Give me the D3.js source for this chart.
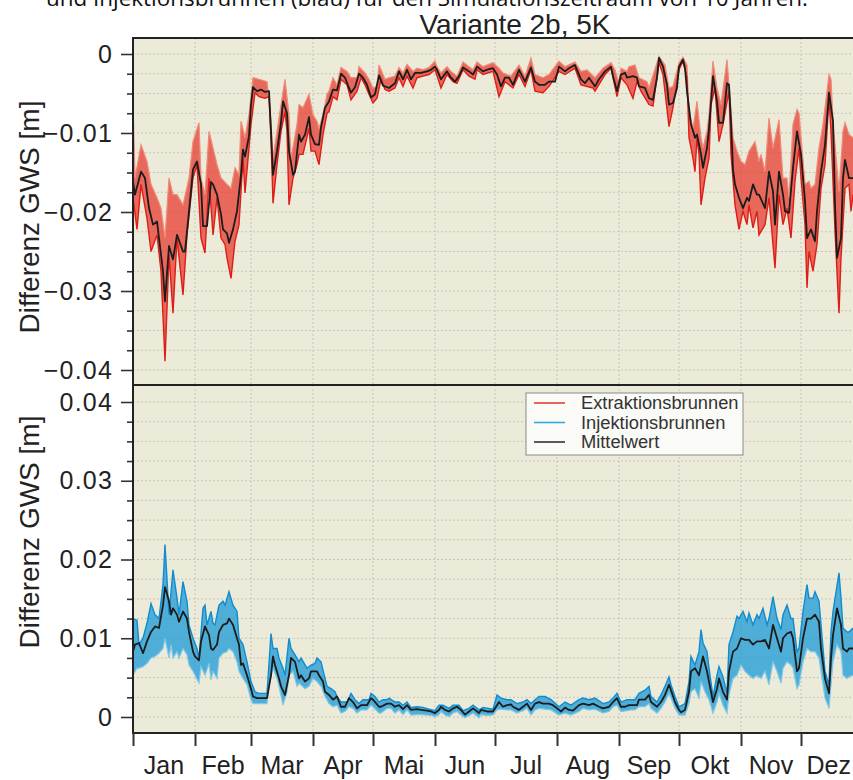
<!DOCTYPE html>
<html>
<head>
<meta charset="utf-8">
<script src="https://cdn.jsdelivr.net/npm/d3@7"></script>
<style>
  body { margin: 0; background: #ffffff; }
  svg { display: block; }
</style>
</head>
<body>
<svg id="chart" width="853" height="780"></svg>
<script>
// ---- categories / ticks ----
const months = ["Jan","Feb","Mar","Apr","Mai","Jun","Jul","Aug","Sep","Okt","Nov","Dez"];
const monthDays = [31,28,31,30,31,30,31,31,30,31,30,31];
const upperTickValues = [-0.04,-0.03,-0.02,-0.01,0];   // m
const lowerTickValues = [0,0.01,0.02,0.03,0.04];        // m
const minorStep = 0.0025;                               // m

// ---- series: [day of year, groundwater difference in mm] ----
// Extraktionsbrunnen: mean, lower and upper envelope of the wells
const extrMean = [[0,-16.1],[1,-17.8],[4,-14.9],[6,-15.7],[8,-19.5],[10,-21.6],[12,-21.2],[13,-23.3],[15,-27.5],[16,-31.3],[18,-24.3],[20,-26.0],[22,-22.9],[25,-25.0],[26,-25.0],[28,-19.9],[30,-14.6],[32,-13.6],[34,-16.5],[35,-21.8],[37,-21.8],[39,-16.2],[40,-16.5],[42,-17.8],[44,-20.3],[45,-22.2],[47,-22.7],[48,-23.9],[50,-22.2],[52,-19.9],[54,-15.3],[55,-12.1],[56,-13.0],[58,-10.4],[59,-6.4],[60,-4.2],[62,-4.7],[64,-4.5],[66,-4.8],[68,-4.7],[69,-9.8],[70,-15.3],[72,-12.3],[74,-8.7],[75,-6.0],[77,-7.5],[78,-12.3],[80,-15.3],[81,-14.9],[83,-10.2],[84,-11.1],[86,-10.2],[88,-8.0],[89,-10.2],[91,-11.4],[93,-11.5],[94,-9.3],[96,-6.8],[98,-6.0],[100,-4.5],[102,-4.6],[104,-2.5],[106,-3.0],[108,-4.3],[109,-4.9],[111,-4.2],[113,-2.5],[115,-3.0],[117,-3.9],[119,-5.5],[121,-5.1],[123,-2.7],[125,-4.0],[128,-4.3],[131,-3.7],[133,-2.2],[135,-3.2],[137,-2.0],[139,-3.2],[141,-2.4],[144,-2.4],[147,-2.2],[149,-2.0],[151,-1.6],[152,-2.0],[154,-3.2],[157,-2.2],[159,-3.0],[161,-3.5],[163,-2.8],[165,-1.7],[168,-2.2],[170,-2.6],[172,-1.6],[175,-2.2],[178,-1.9],[180,-1.8],[182,-2.6],[184,-4.1],[186,-3.0],[188,-3.0],[190,-3.9],[193,-2.0],[196,-3.5],[199,-1.7],[201,-3.5],[203,-3.9],[206,-3.9],[208,-3.5],[211,-3.5],[213,-1.6],[216,-2.2],[218,-1.8],[221,-1.4],[224,-3.2],[226,-3.7],[228,-3.0],[231,-4.1],[233,-3.2],[236,-2.2],[239,-1.6],[240,-2.8],[242,-4.7],[244,-2.6],[246,-2.4],[247,-3.0],[250,-2.8],[252,-3.0],[253,-4.1],[256,-4.3],[258,-5.6],[260,-5.8],[262,-3.0],[263,-0.5],[265,-1.6],[267,-3.9],[268,-6.4],[270,-6.2],[272,-4.3],[273,-1.6],[275,-0.7],[276,-1.8],[277,-4.7],[279,-8.9],[281,-10.6],[282,-10.2],[284,-12.7],[285,-14.4],[287,-11.9],[288,-9.4],[290,-2.8],[292,-6.0],[293,-8.7],[295,-8.7],[297,-3.7],[298,-3.9],[299,-8.5],[300,-14.6],[301,-16.5],[303,-18.2],[305,-19.5],[307,-18.2],[308,-18.6],[310,-16.5],[312,-17.8],[313,-17.8],[316,-19.5],[318,-14.9],[320,-17.4],[321,-21.6],[323,-14.9],[325,-17.8],[326,-19.9],[328,-20.1],[330,-14.4],[332,-9.8],[334,-12.7],[336,-18.6],[337,-23.3],[339,-22.2],[341,-23.7],[342,-19.9],[344,-14.9],[346,-11.5],[348,-4.9],[350,-8.5],[351,-19.1],[352,-25.8],[354,-23.3],[355,-15.7],[356,-13.4],[358,-15.7],[360,-15.7]];

const extrLow = [[0,-18.2],[2,-22.2],[4,-16.5],[7,-20.8],[9,-25.0],[12,-22.9],[14,-27.5],[16,-38.9],[18,-25.4],[20,-32.8],[22,-23.3],[25,-30.5],[27,-22.9],[30,-15.7],[32,-14.0],[34,-23.3],[36,-25.2],[38,-15.7],[40,-22.9],[42,-18.2],[44,-23.3],[46,-24.1],[47,-25.8],[49,-28.4],[51,-23.7],[53,-21.6],[54,-17.4],[55,-13.2],[56,-17.6],[58,-11.9],[59,-8.9],[61,-4.9],[63,-5.4],[66,-5.6],[68,-5.4],[69,-10.6],[70,-18.9],[72,-14.0],[74,-9.8],[76,-7.3],[77,-9.8],[78,-19.1],[80,-15.7],[82,-14.0],[83,-12.7],[85,-12.7],[88,-9.4],[89,-12.3],[91,-12.3],[93,-14.0],[95,-10.2],[97,-7.5],[98,-7.3],[100,-5.4],[102,-5.8],[104,-3.2],[107,-3.9],[109,-5.8],[112,-4.7],[114,-3.0],[116,-3.9],[118,-5.1],[120,-6.2],[122,-5.6],[124,-3.2],[126,-4.5],[128,-4.7],[131,-4.3],[133,-3.0],[135,-4.1],[137,-2.8],[140,-4.3],[142,-3.0],[145,-2.8],[148,-2.6],[151,-2.0],[154,-4.3],[157,-2.6],[160,-3.5],[162,-3.7],[165,-2.0],[168,-2.8],[171,-3.2],[172,-2.0],[175,-2.6],[180,-2.2],[183,-5.4],[186,-3.5],[190,-4.3],[193,-2.6],[196,-4.1],[199,-2.0],[201,-4.7],[205,-4.9],[208,-4.1],[213,-2.2],[216,-2.6],[221,-1.8],[224,-3.9],[230,-4.3],[231,-4.7],[236,-2.6],[239,-1.8],[242,-5.4],[244,-3.0],[247,-3.9],[250,-5.6],[252,-3.5],[254,-4.7],[258,-6.4],[260,-6.6],[263,-1.1],[265,-2.6],[268,-9.2],[270,-6.8],[273,-2.0],[275,-0.9],[277,-3.0],[278,-10.6],[280,-13.2],[281,-14.9],[282,-10.6],[283,-12.7],[284,-19.1],[286,-15.7],[288,-13.2],[289,-6.4],[291,-4.3],[293,-11.1],[295,-8.9],[298,-4.7],[299,-12.7],[301,-19.1],[303,-22.2],[305,-19.9],[307,-21.6],[308,-19.1],[310,-22.0],[312,-19.9],[313,-22.9],[316,-21.6],[318,-18.2],[321,-27.1],[323,-17.8],[325,-21.6],[327,-19.5],[329,-23.3],[331,-16.1],[333,-11.9],[334,-15.7],[336,-21.6],[337,-29.6],[338,-25.0],[340,-27.5],[342,-24.1],[344,-17.0],[346,-14.0],[348,-5.6],[349,-9.8],[351,-22.4],[353,-32.8],[354,-25.8],[356,-17.0],[358,-16.5],[359,-19.9],[360,-17.8]];

const extrHigh = [[0,-6.0],[1,-15.7],[4,-11.5],[7,-13.6],[9,-16.5],[12,-18.2],[14,-19.5],[16,-23.3],[18,-15.7],[20,-17.8],[22,-17.8],[25,-19.1],[28,-15.7],[30,-11.1],[33,-8.7],[34,-15.7],[36,-17.8],[38,-9.8],[40,-11.9],[42,-14.0],[44,-15.7],[47,-16.5],[49,-17.0],[51,-14.4],[53,-15.3],[54,-8.5],[56,-10.6],[58,-7.7],[60,-3.0],[63,-3.2],[67,-3.5],[69,-8.5],[70,-13.2],[72,-9.8],[74,-6.4],[76,-3.2],[78,-7.7],[79,-13.2],[82,-8.9],[83,-6.4],[85,-6.8],[88,-5.1],[90,-7.7],[92,-8.5],[93,-9.4],[95,-7.7],[97,-5.1],[98,-4.7],[100,-3.0],[102,-3.9],[104,-1.7],[107,-2.2],[109,-3.0],[112,-3.0],[113,-1.6],[116,-2.4],[118,-3.2],[120,-4.3],[122,-4.1],[123,-1.4],[126,-3.2],[128,-3.0],[131,-2.8],[133,-1.7],[135,-2.4],[137,-1.3],[140,-2.2],[142,-1.8],[145,-2.0],[148,-1.7],[151,-0.9],[152,-1.6],[154,-2.4],[157,-1.6],[159,-2.2],[162,-2.8],[165,-1.0],[168,-1.6],[170,-2.0],[172,-1.0],[175,-1.6],[180,-1.1],[183,-1.8],[185,-2.4],[189,-2.8],[193,-1.4],[196,-2.8],[199,-0.5],[201,-2.6],[205,-3.0],[208,-2.6],[213,-0.9],[216,-1.6],[221,-1.0],[224,-2.2],[227,-2.0],[231,-3.0],[235,-1.8],[239,-1.1],[241,-2.0],[243,-3.7],[244,-1.8],[247,-2.2],[248,-1.6],[251,-1.4],[253,-3.0],[257,-3.5],[258,-4.3],[262,-1.1],[263,-0.3],[266,-1.4],[268,-4.3],[270,-4.1],[273,-1.1],[275,-0.4],[277,-1.4],[278,-7.3],[280,-9.4],[282,-6.0],[284,-10.6],[285,-11.9],[287,-9.8],[288,-7.7],[290,-0.9],[292,-4.3],[294,-6.4],[297,-0.7],[299,-7.3],[300,-10.6],[302,-12.3],[304,-13.6],[306,-14.0],[308,-12.3],[311,-11.1],[313,-13.6],[314,-12.7],[316,-14.9],[318,-8.1],[320,-11.9],[323,-8.3],[325,-15.7],[327,-15.7],[328,-18.2],[330,-8.9],[332,-7.0],[333,-7.5],[336,-16.5],[338,-16.1],[339,-17.0],[341,-16.5],[343,-11.9],[345,-8.9],[348,-2.6],[349,-3.2],[350,-8.5],[353,-17.4],[355,-9.8],[356,-8.7],[358,-10.2],[360,-10.6]];

// Injektionsbrunnen: mean, lower and upper envelope of the wells
const injMean = [[0,8.3],[1,9.2],[3,9.4],[5,8.1],[7,9.6],[9,10.8],[11,11.5],[13,11.3],[15,14.2],[16,16.5],[18,14.7],[19,13.0],[20,13.8],[22,13.0],[23,12.1],[25,13.4],[27,12.5],[28,10.8],[30,8.3],[31,7.7],[33,7.2],[34,9.6],[36,11.5],[38,10.4],[39,8.7],[40,8.5],[42,9.2],[43,10.8],[45,11.7],[47,11.9],[48,12.5],[50,11.7],[52,10.0],[53,9.2],[54,6.6],[55,6.8],[57,5.3],[59,3.6],[60,2.6],[62,2.4],[64,2.4],[67,2.4],[69,5.3],[70,7.7],[71,6.6],[73,4.9],[74,3.9],[76,2.8],[78,5.3],[79,7.5],[81,7.0],[83,4.9],[84,5.3],[86,4.5],[88,4.9],[89,5.8],[92,5.8],[93,5.3],[95,4.5],[96,3.2],[98,2.8],[100,2.2],[102,2.6],[104,1.3],[106,1.3],[108,2.4],[110,1.9],[112,1.1],[114,1.5],[117,1.5],[119,2.4],[120,2.2],[123,1.3],[124,1.3],[127,1.7],[129,1.7],[131,1.3],[133,1.5],[135,1.0],[137,1.5],[139,0.9],[142,1.0],[144,0.9],[147,0.8],[149,0.7],[151,0.5],[153,0.9],[154,1.3],[156,0.9],[158,0.7],[160,1.1],[162,1.3],[164,0.9],[166,0.3],[168,0.7],[170,1.1],[173,0.5],[174,0.9],[177,0.7],[180,0.7],[182,1.5],[183,1.9],[185,1.3],[187,1.5],[189,1.6],[190,1.3],[193,0.9],[195,1.3],[197,1.7],[199,0.9],[201,1.7],[203,1.9],[205,1.7],[208,1.7],[210,1.5],[213,0.9],[214,0.7],[216,1.2],[218,0.9],[220,0.8],[223,1.5],[225,1.7],[228,1.5],[230,1.7],[233,1.3],[235,1.1],[238,1.3],[240,1.9],[242,2.4],[244,1.3],[246,1.3],[248,1.5],[250,1.5],[252,1.5],[253,2.2],[256,2.2],[258,2.8],[259,1.9],[262,1.3],[264,1.9],[266,2.8],[268,4.1],[269,3.4],[271,1.9],[273,0.9],[274,0.6],[276,0.9],[278,3.2],[279,5.8],[281,6.2],[283,5.3],[285,7.7],[287,5.8],[288,4.5],[290,1.9],[292,3.6],[293,4.9],[295,3.2],[297,2.2],[298,5.8],[300,8.3],[302,8.7],[304,10.0],[306,9.8],[308,9.8],[310,9.2],[312,9.6],[314,9.6],[316,9.8],[318,8.7],[320,11.7],[322,10.0],[324,8.3],[325,10.0],[327,10.6],[329,10.8],[330,10.0],[332,5.8],[333,6.2],[335,10.0],[337,12.5],[339,12.5],[341,13.0],[343,12.1],[344,8.7],[346,4.9],[348,3.0],[349,7.5],[350,10.4],[352,13.8],[354,11.7],[355,8.7],[357,8.3],[358,8.7],[360,8.7]];

const injHigh = [[0,12.5],[2,12.3],[3,9.2],[5,10.0],[7,11.9],[9,14.4],[11,13.0],[13,12.5],[15,16.8],[16,21.9],[18,13.0],[20,18.7],[22,15.1],[23,13.0],[25,17.2],[27,14.7],[28,11.7],[30,10.0],[32,8.7],[33,7.5],[35,13.8],[36,14.2],[37,11.7],[39,13.4],[40,11.9],[41,11.7],[43,14.2],[45,14.7],[46,14.2],[48,15.9],[50,14.2],[52,13.4],[53,10.0],[55,9.2],[57,7.0],[59,4.5],[61,3.2],[63,3.0],[67,3.0],[69,10.6],[70,8.7],[72,8.7],[73,7.5],[75,6.2],[76,5.3],[78,10.0],[79,8.7],[81,7.9],[83,7.0],[84,7.5],[87,6.2],[89,6.6],[91,6.8],[92,7.5],[94,7.0],[96,4.9],[97,3.9],[99,3.6],[101,3.2],[102,2.6],[104,1.9],[107,1.9],[109,3.0],[111,2.2],[113,1.7],[115,2.2],[118,2.2],[119,3.0],[121,2.6],[123,1.9],[125,2.2],[127,2.2],[128,2.4],[131,1.9],[133,1.9],[135,1.5],[137,1.9],[139,1.2],[142,1.3],[145,1.2],[148,1.0],[151,0.8],[153,1.5],[155,1.5],[158,1.1],[160,1.5],[163,1.5],[165,0.8],[168,1.1],[170,1.5],[173,0.9],[175,1.2],[180,1.0],[182,2.8],[184,2.4],[187,2.2],[189,2.2],[192,1.7],[195,1.9],[197,2.2],[199,1.7],[201,2.2],[203,2.6],[206,2.6],[209,2.2],[213,1.3],[216,1.9],[219,1.5],[223,2.2],[225,2.4],[228,2.2],[231,2.4],[235,1.7],[238,1.9],[240,2.4],[242,3.0],[244,1.9],[247,2.2],[249,2.2],[251,2.2],[253,3.0],[256,3.4],[258,3.9],[259,2.6],[262,1.9],[264,2.8],[266,3.9],[268,5.1],[269,4.1],[271,2.6],[273,1.3],[276,1.7],[278,4.5],[279,7.7],[281,6.6],[283,8.3],[284,11.1],[285,9.4],[287,8.3],[288,6.2],[290,2.6],[292,5.3],[293,6.4],[295,5.1],[297,3.0],[298,9.2],[300,10.8],[302,12.8],[303,12.5],[305,13.4],[307,12.1],[308,13.2],[310,11.7],[312,13.0],[313,12.5],[315,13.8],[317,11.7],[318,12.5],[320,15.3],[322,12.5],[324,11.1],[325,13.0],[327,14.2],[329,12.5],[330,12.5],[332,8.3],[333,8.7],[335,13.4],[337,16.8],[338,15.1],[340,15.1],[341,15.9],[343,14.7],[344,11.7],[346,5.8],[348,4.1],[349,10.8],[350,13.4],[353,18.3],[354,15.1],[355,11.3],[357,10.8],[358,10.8],[360,11.3]];

const injLow = [[0,5.3],[2,6.2],[3,6.2],[5,6.4],[7,6.8],[9,7.5],[11,7.7],[13,8.1],[15,8.7],[16,10.0],[18,7.5],[19,9.2],[20,7.5],[22,8.3],[23,7.5],[25,8.7],[27,7.9],[28,6.6],[30,5.8],[31,5.3],[33,4.3],[34,6.4],[36,5.3],[38,6.8],[39,4.7],[40,5.8],[42,4.9],[43,7.5],[45,8.1],[47,8.3],[48,8.7],[50,8.3],[52,7.0],[53,5.8],[55,4.9],[57,4.1],[59,2.2],[60,1.7],[62,1.7],[65,1.7],[67,1.7],[68,4.1],[70,6.2],[72,4.9],[73,3.9],[75,1.5],[77,3.2],[78,5.3],[80,5.8],[82,3.9],[83,4.3],[86,3.6],[88,3.9],[90,4.9],[92,4.5],[94,3.9],[96,2.6],[98,1.7],[100,1.3],[102,1.5],[104,0.5],[106,0.7],[108,1.3],[110,1.1],[112,0.5],[114,0.9],[117,0.9],[119,1.5],[120,1.3],[123,0.5],[124,0.5],[127,1.1],[129,1.1],[131,0.5],[133,0.9],[135,0.3],[137,0.9],[139,0.25],[142,0.3],[144,0.3],[147,0.25],[149,0.2],[151,0.05],[153,0.3],[154,0.7],[156,0.25],[158,0.05],[160,0.5],[162,0.7],[164,0.25],[166,-0.1],[168,0.2],[170,0.5],[173,-0.1],[174,0.3],[177,0.2],[180,0.25],[182,0.9],[184,1.0],[187,0.9],[189,0.9],[192,0.5],[195,0.8],[197,1.1],[199,0.25],[201,0.9],[203,1.1],[206,1.0],[209,0.9],[213,0.25],[216,0.5],[219,0.25],[223,0.7],[225,1.1],[228,0.9],[231,1.0],[235,0.5],[238,0.7],[240,1.3],[242,1.5],[244,0.7],[247,0.8],[249,0.9],[251,0.9],[253,1.3],[256,1.3],[258,1.7],[259,1.1],[262,0.5],[264,1.1],[266,1.9],[268,3.0],[269,2.4],[271,1.1],[273,0.25],[276,0.25],[278,1.7],[279,3.2],[281,3.6],[283,2.4],[284,4.5],[286,3.2],[288,2.2],[290,0.5],[292,1.9],[293,3.0],[295,1.5],[297,0.5],[298,2.8],[300,4.9],[302,5.3],[304,6.6],[306,5.8],[308,5.3],[310,4.9],[312,5.3],[314,4.9],[316,5.8],[318,4.1],[320,7.0],[322,5.8],[324,4.3],[325,6.2],[327,7.0],[329,6.6],[330,6.2],[332,3.6],[333,4.1],[335,7.0],[337,8.7],[339,8.3],[341,8.3],[343,7.5],[344,5.8],[346,2.4],[348,1.1],[349,4.1],[350,7.0],[352,9.2],[354,8.3],[355,5.3],[357,4.9],[358,5.1],[360,5.3]];

const legendItems = [
  { label: "Extraktionsbrunnen", color: "#e8403a" },
  { label: "Injektionsbrunnen", color: "#35aae0" },
  { label: "Mittelwert", color: "#333333" }
];

// ---- layout ----
const svg = d3.select("#chart");
const FONT = "'Liberation Sans', Arial, Helvetica, sans-serif";
const W = 853;
const left = 133, right = 863;
const upTop = 38, mid = 385, lowBottom = 733;

const x = d3.scaleLinear().domain([0, 365]).range([left, right]);
// y scales work in mm; tick values are given in m
const yU = d3.scaleLinear().domain([-40, 0]).range([370, 54]);
const yL = d3.scaleLinear().domain([0, 40]).range([717, 402]);

svg.append("rect").attr("width", W).attr("height", 780).attr("fill", "#ffffff");

// caption line above the figure (partly outside the page)
svg.append("text")
  .attr("x", 427).attr("y", 6)
  .attr("text-anchor", "middle")
  .attr("font-family", "'Open Sans', 'Noto Sans', sans-serif")
  .attr("font-size", 21)
  .attr("fill", "#111")
  .attr("textLength", 762).attr("lengthAdjust", "spacingAndGlyphs")
  .text("und Injektionsbrunnen (blau) für den Simulationszeitraum von 10 Jahren.");

svg.append("text")
  .attr("x", 515).attr("y", 34)
  .attr("text-anchor", "middle")
  .attr("font-family", FONT)
  .attr("font-size", 28)
  .attr("fill", "#222")
  .text("Variante 2b, 5K");

const defs = svg.append("defs");
function clip(id, y0, y1) {
  defs.append("clipPath").attr("id", id)
    .append("rect").attr("x", left).attr("y", y0).attr("width", right - left).attr("height", y1 - y0);
}
clip("clipU", upTop, mid);
clip("clipL", mid, lowBottom);

const monthStarts = d3.cumsum([0].concat(monthDays));  // 0,31,59,...,365
const fmtM = v => (Math.abs(v) < 1e-9 ? "0" : d3.format(".2f")(v));

function panel(y, y0, y1, clipId, domainMm, mean, low, high, colors, tickValues) {
  const g = svg.append("g");
  g.append("rect").attr("x", left).attr("y", y0).attr("width", right - left).attr("height", y1 - y0)
    .attr("fill", "#ecebd9");

  // dotted grid
  const minor = d3.range(domainMm[0], domainMm[1] + 0.01, minorStep * 1000);
  g.selectAll(null).data(minor).join("line")
    .attr("x1", left).attr("x2", right)
    .attr("y1", d => y(d)).attr("y2", d => y(d))
    .attr("stroke", "#c6c6ba").attr("stroke-width", 1).attr("stroke-dasharray", "2,2");
  g.selectAll(null).data(monthStarts.slice(1, 12)).join("line")
    .attr("x1", d => x(d)).attr("x2", d => x(d))
    .attr("y1", y0).attr("y2", y1)
    .attr("stroke", "#c6c6ba").attr("stroke-width", 1).attr("stroke-dasharray", "2,2");

  const line = d3.line().x(d => x(d[0])).y(d => y(d[1]));
  const data = g.append("g").attr("clip-path", `url(#${clipId})`);

  // envelope between lowest and highest well
  data.append("path")
    .attr("d", line(high.concat(low.slice().reverse())) + "Z")
    .attr("fill", colors.band).attr("fill-opacity", colors.bandOpacity).attr("stroke", "none");
  data.append("path").attr("d", line(colors.outerIsLow ? high : low))
    .attr("fill", "none").attr("stroke", colors.light).attr("stroke-width", 1.2);
  data.append("path").attr("d", line(colors.outerIsLow ? low : high))
    .attr("fill", "none").attr("stroke", colors.strong).attr("stroke-width", 1.4);
  data.append("path").attr("d", line(mean))
    .attr("fill", "none").attr("stroke", "#1c1c1c").attr("stroke-width", 1.8)
    .attr("stroke-linejoin", "round");

  // y axis with major and minor ticks
  const axis = d3.axisLeft(y)
    .tickValues(minor)
    .tickSize(12)
    .tickPadding(8)
    .tickFormat(d => {
      const m = d / 1000;
      return tickValues.some(t => Math.abs(t - m) < 1e-9) ? fmtM(m) : "";
    });
  const ax = svg.append("g").attr("transform", `translate(${left},0)`).call(axis);
  ax.select(".domain").remove();
  ax.selectAll(".tick line")
    .attr("stroke", "#333").attr("stroke-width", 1.6)
    .attr("x2", d => (tickValues.some(t => Math.abs(t - d / 1000) < 1e-9) ? -12 : -6));
  ax.selectAll(".tick text")
    .attr("font-family", FONT).attr("font-size", 25).attr("fill", "#222")
    .attr("letter-spacing", 1.2);
}

panel(yU, upTop, mid, "clipU", [-40, 0], extrMean, extrLow, extrHigh,
  { band: "#e6362a", bandOpacity: 0.72, strong: "#dd1e17", light: "#ef8c79", outerIsLow: true },
  upperTickValues);
panel(yL, mid, lowBottom, "clipL", [0, 40], injMean, injLow, injHigh,
  { band: "#1898d7", bandOpacity: 0.74, strong: "#108ccf", light: "#7fc8e8", outerIsLow: false },
  lowerTickValues);

// frame lines
const frame = svg.append("g").attr("stroke", "#222").attr("stroke-width", 2);
frame.append("line").attr("x1", left).attr("x2", right).attr("y1", upTop).attr("y2", upTop);
frame.append("line").attr("x1", left).attr("x2", right).attr("y1", mid).attr("y2", mid);
frame.append("line").attr("x1", left).attr("x2", right).attr("y1", lowBottom).attr("y2", lowBottom);
frame.append("line").attr("x1", left).attr("x2", left).attr("y1", upTop - 1).attr("y2", lowBottom + 1);

// month axis
const xAxis = d3.axisBottom(x).tickValues(monthStarts).tickSize(13).tickFormat("");
const xa = svg.append("g").attr("transform", `translate(0,${lowBottom})`).call(xAxis);
xa.select(".domain").remove();
xa.selectAll(".tick line").attr("stroke", "#333").attr("stroke-width", 2);

// month names centred on each month, kept inside the page on the right
svg.append("g").selectAll("text").data(months).join("text")
  .attr("x", (d, i) => x((monthStarts[i] + monthStarts[i + 1]) / 2))
  .attr("y", 774)
  .attr("text-anchor", "middle")
  .attr("font-family", FONT).attr("font-size", 25).attr("fill", "#222")
  .text(d => d)
  .each(function () {
    const t = d3.select(this);
    const half = this.getComputedTextLength() / 2;
    const cx = +t.attr("x");
    if (cx + half > W - 2) t.attr("x", W - 2 - half);
  });

// axis titles
[217, 532].forEach(cy => {
  svg.append("text")
    .attr("transform", `translate(39,${cy}) rotate(-90)`)
    .attr("text-anchor", "middle")
    .attr("font-family", FONT).attr("font-size", 28).attr("fill", "#222")
    .text("Differenz GWS [m]");
});

// legend
const lg = svg.append("g").attr("transform", "translate(526,393)");
lg.append("rect").attr("width", 217).attr("height", 62)
  .attr("fill", "#fafaf7").attr("stroke", "#8a8a8a").attr("stroke-width", 1);
legendItems.forEach((it, i) => {
  const cy = 10 + i * 19.5;
  lg.append("line").attr("x1", 8).attr("x2", 39).attr("y1", cy).attr("y2", cy)
    .attr("stroke", it.color).attr("stroke-width", 1.6);
  lg.append("text").attr("x", 55).attr("y", cy + 6)
    .attr("font-family", FONT).attr("font-size", 18.3).attr("fill", "#333")
    .text(it.label);
});
</script>
</body>
</html>
